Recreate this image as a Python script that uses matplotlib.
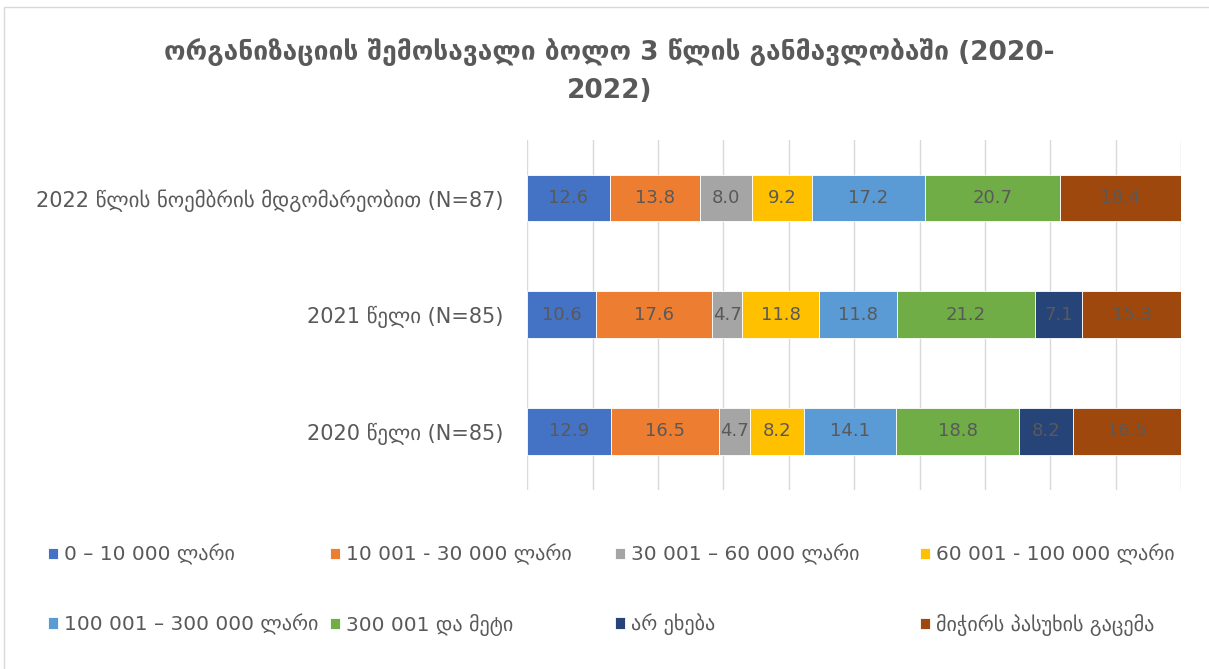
import matplotlib
matplotlib.use("Agg")
import matplotlib.pyplot as plt
import matplotlib.patches as patches
import numpy as np

plt.rcParams['font.family'] = ['DejaVu Sans']

# categories, bottom to top
categories = ['2020 წელი (N=85)', '2021 წელი (N=85)',
              '2022 წლის ნოემბრის მდგომარეობით (N=87)']

series_names = ['0 – 10 000 ლარი', '10 001 - 30 000 ლარი', '30 001 – 60 000 ლარი',
                '60 001 - 100 000 ლარი', '100 001 – 300 000 ლარი', '300 001 და მეტი',
                'არ ეხება', 'მიჭირს პასუხის გაცემა']

# values per series: [2020, 2021, 2022]
v_0_10k = [12.9, 10.6, 12.6]
v_10_30k = [16.5, 17.6, 13.8]
v_30_60k = [4.7, 4.7, 8.0]
v_60_100k = [8.2, 11.8, 9.2]
v_100_300k = [14.1, 11.8, 17.2]
v_300k_plus = [18.8, 21.2, 20.7]
v_not_applicable = [8.2, 7.1, 0.0]
v_hard_to_say = [16.5, 15.3, 18.4]

series_values = [v_0_10k, v_10_30k, v_30_60k, v_60_100k,
                 v_100_300k, v_300k_plus, v_not_applicable, v_hard_to_say]

colors = ['#4472C4', '#ED7D31', '#A5A5A5', '#FFC000',
          '#5B9BD5', '#70AD47', '#264478', '#9E480E']

grey = '#595959'

fig = plt.figure(figsize=(12.09, 6.69), dpi=100)
ax = fig.add_axes([0.436, 0.268, 0.541, 0.523])

y = np.arange(len(categories))
left = np.zeros(len(categories))
handles = []
for name, vals, col in zip(series_names, series_values, colors):
    vals = np.array(vals)
    bars = ax.barh(y, vals, left=left, height=0.4, color=col, label=name,
                   edgecolor='white', linewidth=0.6, zorder=3)
    handles.append(bars)
    for yi, (l, v) in enumerate(zip(left, vals)):
        if v > 0:
            ax.text(l + v / 2, yi, f'{v:.1f}', ha='center', va='center',
                    fontsize=13, color=grey, zorder=4)
    left = left + vals

ax.set_xlim(0, 100)
ax.set_ylim(-0.5, 2.5)
ax.set_xticks(np.arange(0, 101, 10))
ax.xaxis.grid(True, color='#D9D9D9', linewidth=1, zorder=0)
ax.tick_params(axis='x', labelbottom=False, length=0)
ax.set_yticks(y)
ax.set_yticklabels(categories, fontsize=15, color=grey)
ax.tick_params(axis='y', length=0, pad=17)
for s in ax.spines.values():
    s.set_visible(False)

fig.text(0.504, 0.894, 'ორგანიზაციის შემოსავალი ბოლო 3 წლის განმავლობაში (2020-\n2022)',
         ha='center', va='center', fontsize=19, fontweight='bold', color=grey,
         linespacing=1.6)

# legend: Excel lays it out in rows, so one small legend per column
col_x = [48, 330, 615, 920]
for c, x0 in enumerate(col_x):
    leg = fig.legend([handles[c], handles[c + 4]], [series_names[c], series_names[c + 4]],
                     loc='upper left', bbox_to_anchor=(x0 / 1209, 1 - 544 / 669),
                     frameon=False, fontsize=14.5, labelcolor=grey,
                     handlelength=0.5, handleheight=0.5, handletextpad=0.3,
                     borderpad=0, borderaxespad=0, labelspacing=2.4)

fig.patches.append(patches.Rectangle((0.003, -0.1), 1.1, 1.089, transform=fig.transFigure,
                                     fill=False, edgecolor='#D9D9D9', linewidth=1))

fig.savefig('out.png', dpi=100)
